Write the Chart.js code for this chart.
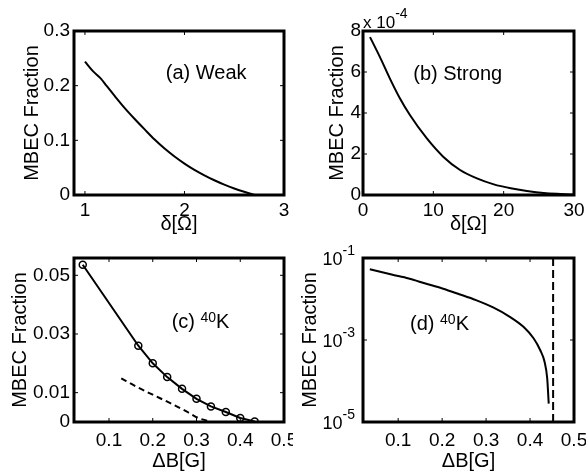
<!DOCTYPE html>
<html>
<head>
<meta charset="utf-8">
<script src="https://cdn.jsdelivr.net/npm/chart.js@4.4.0/dist/chart.umd.min.js"></script>
<style>
  html, body { margin: 0; padding: 0; background: #fff; }
  #wrap { position: relative; width: 586px; height: 476px; overflow: hidden; }
  canvas { position: absolute; }
</style>
</head>
<body>
<div id="wrap">
  <canvas id="pa" width="293" height="238" style="left:0;top:0"></canvas>
  <canvas id="pb" width="293" height="238" style="left:293px;top:0"></canvas>
  <canvas id="pc" width="293" height="238" style="left:0;top:238px"></canvas>
  <canvas id="pd" width="293" height="238" style="left:293px;top:238px"></canvas>
</div>
<script>
// (a) weak coupling
const weakDelta    = [1.0, 1.08, 1.16, 1.22, 1.3, 1.4, 1.5, 1.6, 1.7, 1.8, 1.9, 2.0, 2.1, 2.2, 2.3, 2.4, 2.5, 2.6, 2.71];
const weakFraction = [0.244, 0.2265, 0.213, 0.199, 0.181, 0.159, 0.139, 0.120, 0.1015, 0.085, 0.0705, 0.0575, 0.046, 0.036, 0.027, 0.019, 0.012, 0.006, 0];
const weakXTicks = [1, 2, 3];
const weakYTicks = [0, 0.1, 0.2, 0.3];

// (b) strong coupling, fraction in units of 1e-4
const strongDelta    = [1, 2.38, 3.81, 5.24, 6.67, 9.05, 11.4, 13.8, 16.2, 18.6, 21, 23.3, 25.7, 28.1, 30];
const strongFraction = [7.7, 6.75, 5.69, 4.72, 3.90, 2.77, 1.87, 1.22, 0.81, 0.52, 0.33, 0.20, 0.10, 0.05, 0.02];
const strongXTicks = [0, 10, 20, 30];
const strongYTicks = [0, 2, 4, 6, 8];

// (c) 40K, linear
const kField    = [0.04, 0.167, 0.2, 0.233, 0.267, 0.3, 0.333, 0.367, 0.4, 0.433];
const kFraction = [0.0536, 0.0260, 0.0200, 0.0153, 0.0113, 0.0079, 0.0053, 0.0034, 0.00136, 0.0002];
const kDashField    = [0.128, 0.162, 0.2, 0.239, 0.277, 0.304, 0.331];
const kDashFraction = [0.0149, 0.0121, 0.0093, 0.0065, 0.0036, 0.00136, 0.0002];
const kXTicks = [0.1, 0.2, 0.3, 0.4, 0.5];
const kYTicks = [0, 0.01, 0.03, 0.05];

// (d) 40K, log scale
const kLogField    = [0.0355, 0.085, 0.124, 0.162, 0.2005, 0.239, 0.277, 0.316, 0.354, 0.385, 0.408, 0.423, 0.433, 0.439, 0.4425];
const kLogFraction = [0.053, 0.0394, 0.0316, 0.0239, 0.0181, 0.0131, 0.00938, 0.00622, 0.00368, 0.0021, 0.0011, 0.00057, 0.000296, 0.000117, 0.000028];
const kCutoff = 0.4525;
const kLogYTicks = [1e-5, 1e-3, 1e-1];

Chart.defaults.font.family = "'Liberation Sans', Arial, Helvetica, sans-serif";
Chart.defaults.color = '#000';

const FONT = "'Liberation Sans', Arial, Helvetica, sans-serif";

function pts(xs, ys) {
  return xs.map((x, i) => ({ x: x, y: ys[i] }));
}

// draws text pieces, some of them raised as superscripts
function supText(ctx, x, y, parts, size, supSize, raise, align) {
  let w = 0;
  parts.forEach(p => {
    ctx.font = (p[1] ? supSize : size) + 'px ' + FONT;
    w += ctx.measureText(p[0]).width;
  });
  let cx = align === 'right' ? x - w : x;
  ctx.textAlign = 'left';
  ctx.textBaseline = 'alphabetic';
  parts.forEach(p => {
    ctx.font = (p[1] ? supSize : size) + 'px ' + FONT;
    ctx.fillText(p[0], cx, p[1] ? y - raise : y);
    cx += ctx.measureText(p[0]).width;
  });
}

// matlab style box, inward ticks, labels inside the axes
const frame = {
  id: 'frame',
  afterDatasetsDraw(chart, args, opts) {
    const { ctx, chartArea: a, scales: { x, y } } = chart;
    ctx.save();
    ctx.fillStyle = '#000';
    ctx.strokeStyle = '#000';
    ctx.lineWidth = 1;
    ctx.beginPath();
    x.ticks.forEach(t => {
      const p = x.getPixelForValue(t.value);
      ctx.moveTo(p, a.bottom); ctx.lineTo(p, a.bottom - 4);
      ctx.moveTo(p, a.top); ctx.lineTo(p, a.top + 4);
    });
    y.ticks.forEach(t => {
      const p = y.getPixelForValue(t.value);
      ctx.moveTo(a.left, p); ctx.lineTo(a.left + 4, p);
      ctx.moveTo(a.right, p); ctx.lineTo(a.right - 4, p);
    });
    ctx.stroke();
    ctx.lineWidth = 3;
    ctx.strokeRect(a.left, a.top, a.right - a.left, a.bottom - a.top);

    if (opts.logLabels) {
      y.ticks.forEach(t => {
        const p = y.getPixelForValue(t.value);
        const e = Math.round(Math.log10(t.value));
        supText(ctx, a.left - 8, p + 7, [['10', false], [String(e), true]], 18, 14, 10, 'right');
      });
    }
    if (opts.mult) {
      supText(ctx, a.left, a.top - 3, [['x 10', false], [opts.mult, true]], 17, 14, 10, 'left');
    }
    (opts.notes || []).forEach(n => {
      const px = a.left + n.fx * (a.right - a.left);
      const py = a.top + n.fy * (a.bottom - a.top);
      supText(ctx, px, py, n.parts, 20, 14, 6, 'left');
    });
    ctx.restore();
  }
};

function panel(id, o) {
  return new Chart(document.getElementById(id), {
    type: 'scatter',
    data: { datasets: o.datasets },
    options: {
      responsive: false,
      animation: false,
      events: [],
      layout: { padding: { top: o.padTop, right: o.padRight, left: 0, bottom: 0 } },
      plugins: {
        legend: { display: false },
        tooltip: { enabled: false },
        frame: { notes: o.notes, mult: o.mult, logLabels: o.logY }
      },
      scales: {
        x: {
          type: 'linear',
          min: o.xMin, max: o.xMax,
          afterBuildTicks: s => { s.ticks = o.xTicks.map(v => ({ value: v })); },
          afterFit: s => { s.height = o.xH; s.paddingLeft = 0; s.paddingRight = 0; },
          grid: { display: false, drawTicks: false },
          border: { display: false },
          ticks: { padding: o.xTickPad, font: { size: 19 }, maxRotation: 0, autoSkip: false, callback: v => String(v) },
          title: { display: true, text: o.xTitle, font: { size: 20 }, padding: { top: 0, bottom: o.xTitlePad } }
        },
        y: {
          type: o.logY ? 'logarithmic' : 'linear',
          min: o.yMin, max: o.yMax,
          afterBuildTicks: s => { s.ticks = o.yTicks.map(v => ({ value: v })); },
          afterFit: s => { s.width = o.yW; s.paddingTop = 0; s.paddingBottom = 0; },
          grid: { display: false, drawTicks: false },
          border: { display: false },
          ticks: { display: !o.logY, padding: o.yTickPad, font: { size: 19 }, autoSkip: false, callback: v => String(v) },
          title: { display: true, text: 'MBEC Fraction', font: { size: 20 }, padding: { top: o.yTitlePad, bottom: 0 } }
        }
      }
    },
    plugins: [frame]
  });
}

const solid = { borderColor: '#000', borderWidth: 2, pointRadius: 0, showLine: true, cubicInterpolationMode: 'monotone' };

panel('pa', {
  datasets: [Object.assign({ data: pts(weakDelta, weakFraction) }, solid)],
  xMin: 0.89, xMax: 3, xTicks: weakXTicks,
  yMin: 0, yMax: 0.3, yTicks: weakYTicks,
  padTop: 31, padRight: 9, xH: 43, yW: 74,
  xTickPad: 4, yTickPad: 4, xTitlePad: 2, yTitlePad: 20,
  xTitle: 'δ[Ω]',
  notes: [{ fx: 0.437, fy: 0.291, parts: [['(a) Weak', false]] }]
});

panel('pb', {
  datasets: [Object.assign({ data: pts(strongDelta, strongFraction) }, solid)],
  xMin: 0, xMax: 30, xTicks: strongXTicks,
  yMin: 0, yMax: 8, yTicks: strongYTicks,
  padTop: 31, padRight: 12, xH: 43, yW: 70,
  xTickPad: 4, yTickPad: 2, xTitlePad: 2, yTitlePad: 32,
  xTitle: 'δ[Ω]', mult: '-4',
  notes: [{ fx: 0.238, fy: 0.297, parts: [['(b) Strong', false]] }]
});

panel('pc', {
  datasets: [
    { data: pts(kField, kFraction), showLine: true, borderColor: '#000', borderWidth: 2, tension: 0,
      pointRadius: 3.5, pointBorderWidth: 1.5, pointBorderColor: '#000', pointBackgroundColor: 'rgba(0,0,0,0)' },
    Object.assign({ data: pts(kDashField, kDashFraction), borderDash: [6, 4] }, solid)
  ],
  xMin: 0.02, xMax: 0.5, xTicks: kXTicks,
  yMin: 0, yMax: 0.0559, yTicks: kYTicks,
  padTop: 20, padRight: 9, xH: 54, yW: 74,
  xTickPad: 7, yTickPad: 4, xTitlePad: 3, yTitlePad: 8,
  xTitle: 'ΔB[G]',
  notes: [{ fx: 0.465, fy: 0.429, parts: [['(c) ', false], ['40', true], ['K', false]] }]
});

panel('pd', {
  datasets: [
    Object.assign({ data: pts(kLogField, kLogFraction) }, solid),
    { data: [{ x: kCutoff, y: 1e-5 }, { x: kCutoff, y: 1e-1 }], showLine: true, borderColor: '#000',
      borderWidth: 2, borderDash: [8, 4], pointRadius: 0 }
  ],
  xMin: 0.02, xMax: 0.5, xTicks: kXTicks,
  yMin: 1e-5, yMax: 1e-1, yTicks: kLogYTicks, logY: true,
  padTop: 20, padRight: 12, xH: 54, yW: 70,
  xTickPad: 7, yTickPad: 4, xTitlePad: 3, yTitlePad: 5,
  xTitle: 'ΔB[G]',
  notes: [{ fx: 0.223, fy: 0.439, parts: [['(d) ', false], ['40', true], ['K', false]] }]
});
</script>
</body>
</html>
